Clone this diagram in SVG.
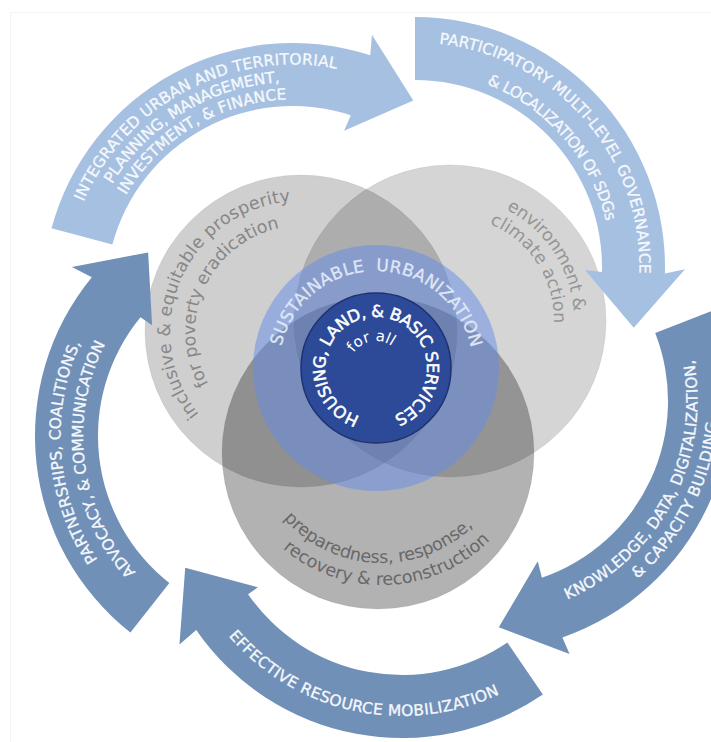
<svg xmlns="http://www.w3.org/2000/svg" width="711" height="742" viewBox="0 0 711 742">
<style>
.lt{fill:#a6c0e1}
.dk{fill:#7190b8}
.at{font-family:"DejaVu Sans","Liberation Sans",sans-serif;font-size:15.5px;fill:#f5f8fc;stroke:#f5f8fc;stroke-width:.3px;text-anchor:middle}
.gt{font-family:"DejaVu Sans","Liberation Sans",sans-serif;font-size:17.5px;text-anchor:middle}
.ct{font-family:"DejaVu Sans","Liberation Sans",sans-serif;text-anchor:middle}
.gc{fill:#000;stroke:#000;stroke-opacity:.07;stroke-width:1}
</style>
<defs>
<path id="p1a" d="M82.28,381.36 A228.5,228.5 0 0 1 485.18,169.39"/>
<path id="p1b" d="M103.76,386.32 A211,211 0 0 1 463.16,168.23"/>
<path id="p1c" d="M118.79,377.22 A193.5,193.5 0 0 1 449.94,179.81"/>
<path id="p2a" d="M282.78,85.57 A224.5,224.5 0 0 1 576.76,422.67"/>
<path id="p2b" d="M299.50,108.03 A196.5,196.5 0 0 1 556.35,403.50"/>
<path id="p3a" d="M397.28,600.66 A216.5,216.5 0 0 0 598.12,218.91"/>
<path id="p3b" d="M392.60,620.90 A237,237 0 0 0 606.24,199.79"/>
<path id="p4a" d="M175.75,459.82 A228,228 0 0 0 619.92,555.04"/>
<path id="p5a" d="M283.04,660.49 A224.5,224.5 0 0 1 247.95,214.58"/>
<path id="p5b" d="M294.16,637.79 A202,202 0 0 1 240.94,238.86"/>
<path id="pSU" d="M279.45,358.70 A97,97 0 0 1 472.70,360.39"/>
<path id="pHO" d="M376,419 A51,51 0 0 1 375.11,317.01 A51,51 0 0 1 377.78,418.97"/>
<path id="pFA" d="M349.10,370.35 A27,27 0 0 1 402.08,361.01"/>
<path id="pINa" d="M239.00,447.40 A131,131 0 0 1 342.02,207.59"/>
<path id="pINb" d="M248.80,424.26 A106,106 0 0 1 336.38,232.08"/>
<path id="pENa" d="M390.83,211.03 A124,124 0 0 1 527.19,417.04"/>
<path id="pENb" d="M401.34,228.09 A104,104 0 0 1 513.89,402.06"/>
<path id="pPRa" d="M251.15,438.29 A131,131 0 0 0 511.95,448.53"/>
<path id="pPRb" d="M230.24,451.44 A153,153 0 0 0 534.83,439.21"/>
</defs>
<rect width="711" height="742" fill="#fff"/>
<rect x="10.5" y="12.5" width="720" height="740" fill="none" stroke="#f3f3f3"/>

<g id="circle-prosperity">
<circle class="gc" cx="301" cy="331" r="156" fill-opacity=".19"/>
</g>
<g id="circle-environment">
<circle class="gc" cx="450" cy="321" r="156" fill-opacity=".165"/>
</g>
<g id="circle-preparedness">
<circle class="gc" cx="378" cy="453" r="156" fill-opacity=".3"/>
</g>
<g id="ring-sustainable-urbanization">
<circle cx="376" cy="368" r="123" fill="#648ceb" fill-opacity=".5"/>
<text class="ct" font-size="17" fill="#dfe6f4" stroke="#dfe6f4" stroke-width=".3"><textPath href="#pSU" startOffset="50%" textLength="262" lengthAdjust="spacing">SUSTAINABLE&#160;&#160;URBANIZATION</textPath></text>
</g>
<g id="core-housing">
<circle cx="376" cy="368" r="75" fill="#2c4a97" stroke="#1f3170" stroke-width="1.5"/>
<text class="ct" font-size="16.5" fill="#ffffff" stroke="#ffffff" stroke-width=".5"><textPath href="#pHO" startOffset="50%" textLength="285" lengthAdjust="spacing">HOUSING, LAND, &amp; BASIC SERVICES</textPath></text>
<text class="ct" font-size="15" fill="#ffffff"><textPath href="#pFA" startOffset="50%">for all</textPath></text>
</g>
<g id="label-prosperity">
<text class="gt" fill="#878787"><textPath href="#pINa" startOffset="50%" textLength="284" lengthAdjust="spacing">inclusive &amp; equitable prosperity</textPath></text>
<text class="gt" fill="#878787"><textPath href="#pINb" startOffset="50%" textLength="199" lengthAdjust="spacing">for poverty eradication</textPath></text>
</g>
<g id="label-environment">
<text class="gt" fill="#959595"><textPath href="#pENa" startOffset="50%" textLength="128" lengthAdjust="spacing">environment &amp;</textPath></text>
<text class="gt" fill="#959595"><textPath href="#pENb" startOffset="50%" textLength="126" lengthAdjust="spacing">climate action</textPath></text>
</g>
<g id="label-preparedness">
<text class="gt" fill="#686868"><textPath href="#pPRa" startOffset="50%" textLength="212" lengthAdjust="spacing">preparedness, response,</textPath></text>
<text class="gt" fill="#686868"><textPath href="#pPRb" startOffset="50%" textLength="228" lengthAdjust="spacing">recovery &amp; reconstruction</textPath></text>
</g>

<g id="arrow-planning">
<path class="lt" d="M51.52,228.30 A250,250 0 0 1 370.25,55.24 L371.94,34.80 L413.29,100.49 L344.12,130.87 L350.79,115.15 A187,187 0 0 0 112.37,244.60 Z"/>
<text class="at"><textPath href="#p1a" startOffset="50%" textLength="309" lengthAdjust="spacing">INTEGRATED URBAN AND TERRITORIAL</textPath></text>
<text class="at"><textPath href="#p1b" startOffset="50%" textLength="204" lengthAdjust="spacing">PLANNING, MANAGEMENT,</textPath></text>
<text class="at"><textPath href="#p1c" startOffset="50%" textLength="195" lengthAdjust="spacing">INVESTMENT, &amp; FINANCE</textPath></text>
</g>
<g id="arrow-governance">
<path class="lt" d="M415,17 A250,250 0 0 1 664.91,273.54 L684.99,269.36 L633.74,327.66 L584.97,269.97 L601.94,271.90 A187,187 0 0 0 415,80 Z"/>
<text class="at"><textPath href="#p2a" startOffset="50%" textLength="335" lengthAdjust="spacing">PARTICIPATORY MULTI-LEVEL GOVERNANCE</textPath></text>
<text class="at"><textPath href="#p2b" startOffset="50%" textLength="189" lengthAdjust="spacing">&amp; LOCALIZATION OF SDGs</textPath></text>
</g>
<g id="arrow-knowledge">
<path class="dk" d="M713.92,310.19 A250,250 0 0 1 562.39,637.38 L569.58,653.94 L498.81,627.30 L537.75,561.25 L541.88,577.81 A187,187 0 0 0 655.23,333.07 Z"/>
<text class="at"><textPath href="#p3a" startOffset="50%" textLength="293" lengthAdjust="spacing">KNOWLEDGE, DATA, DIGITALIZATION,</textPath></text>
<text class="at"><textPath href="#p3b" startOffset="50%" textLength="180" lengthAdjust="spacing">&amp; CAPACITY BUILDING</textPath></text>
</g>
<g id="arrow-resources">
<path class="dk" d="M542.88,694.53 A250,250 0 0 1 196.21,629.96 L179.46,644.40 L185.21,567.76 L257.95,587.37 L248.07,594.19 A187,187 0 0 0 507.38,642.48 Z"/>
<text class="at"><textPath href="#p4a" startOffset="50%" textLength="298" lengthAdjust="spacing">EFFECTIVE RESOURCE MOBILIZATION</textPath></text>
</g>
<g id="arrow-partnerships">
<path class="dk" d="M130.40,632.47 A250,250 0 0 1 91.82,277.30 L71.84,267.05 L148.14,252.39 L152.09,325.26 L140.50,317.29 A187,187 0 0 0 169.36,582.96 Z"/>
<text class="at"><textPath href="#p5a" startOffset="50%" textLength="227" lengthAdjust="spacing">PARTNERSHIPS, COALITIONS,</textPath></text>
<text class="at"><textPath href="#p5b" startOffset="50%" textLength="245" lengthAdjust="spacing">ADVOCACY, &amp; COMMUNICATION</textPath></text>
</g>
</svg>
